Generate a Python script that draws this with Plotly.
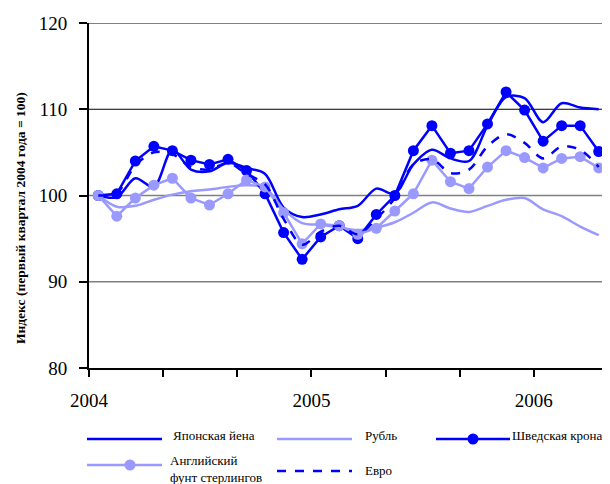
import plotly.graph_objects as go

# ---- data (monthly index, Jan 2004 .. Apr 2006) ----
months = list(range(28))
yen = [100, 99.8, 102.0, 101.0, 105.3, 103.0, 102.8, 103.8, 103.2, 102.5,
       98.6, 97.5, 97.8, 98.4, 98.8, 100.8, 100.2, 103.6, 105.3, 104.3,
       104.0, 108.1, 111.4, 111.3, 108.5, 110.7, 110.2, 110.0]
ruble = [100, 98.7, 98.8, 99.5, 100.1, 100.5, 100.7, 101.0, 101.2, 100.9,
         98.4, 96.8, 96.6, 96.3, 96.0, 96.3, 96.9, 98.0, 99.2, 98.5,
         98.1, 98.8, 99.5, 99.7, 98.4, 97.6, 96.4, 95.4]
krona = [100, 100.2, 104.0, 105.7, 105.2, 104.1, 103.6, 104.2, 102.9, 100.2,
         95.7, 92.6, 95.2, 96.5, 95.0, 97.8, 100.0, 105.2, 108.1, 104.9,
         105.2, 108.3, 112.0, 109.9, 106.3, 108.1, 108.1, 105.1]
pound = [100, 97.6, 99.7, 101.2, 102.0, 99.7, 98.9, 100.2, 101.8, 101.0,
         98.0, 94.4, 96.7, 96.5, 95.5, 96.2, 98.2, 100.2, 104.1, 101.6,
         100.8, 103.3, 105.2, 104.4, 103.2, 104.3, 104.5, 103.2]
euro = [100, 100.3, 103.5, 105.0, 104.8, 103.3, 103.0, 103.8, 102.5, 101.3,
        97.3, 94.3, 95.8, 96.5, 95.5, 97.3, 99.7, 103.6, 104.2, 102.6,
        103.0, 105.7, 107.1, 106.1, 104.3, 105.7, 105.3, 103.3]

tick_vals = [-0.5, 3.5, 7.5, 11.5, 15.5, 19.5, 23.5, 27.5]
tick_text = ["2004", "", "", "2005", "", "", "2006", ""]
y_ticks = [80, 90, 100, 110, 120]

DARK = "#0000FF"
LIGHT = "#9999FF"
FONT = "Liberation Serif, Times New Roman, serif"

names = ["Японская йена", "Рубль", "Шведская крона",
         "Английский<br>фунт стерлингов", "Евро"]

fig = go.Figure()
fig.add_trace(go.Scatter(x=months, y=yen, mode="lines", name=names[0],
                         line=dict(color=DARK, width=2.5, shape="spline", smoothing=0.9)))
fig.add_trace(go.Scatter(x=months, y=ruble, mode="lines", name=names[1],
                         line=dict(color=LIGHT, width=2.5, shape="spline", smoothing=0.9)))
fig.add_trace(go.Scatter(x=months, y=krona, mode="lines+markers", name=names[2],
                         line=dict(color=DARK, width=2.5),
                         marker=dict(color=DARK, size=11)))
fig.add_trace(go.Scatter(x=months, y=pound, mode="lines+markers", name=names[3],
                         line=dict(color=LIGHT, width=2.5),
                         marker=dict(color=LIGHT, size=11)))
fig.add_trace(go.Scatter(x=months, y=euro, mode="lines", name=names[4],
                         line=dict(color=DARK, width=2.5, dash="dash",
                                   shape="spline", smoothing=0.9)))

# page has an 8px body margin: lay out in page pixels, then shift
OFF = 8
W, H = 610 - OFF, 484 - OFF
L, R, T, B = 89, 608, 23, 368   # plot area in page pixels


def px(x):
    return (x - L) / (R - L)


def py(y):
    return (B - y) / (B - T)


shapes = []
for lvl, col, w in [(90, "#808080", 1.5), (100, "#808080", 1.5),
                    (110, "#000000", 1), (120, "#000000", 1)]:
    shapes.append(dict(type="line", xref="paper", yref="y", x0=0, x1=1,
                       y0=lvl, y1=lvl, line=dict(color=col, width=w), layer="below"))

annotations = []
legend_items = [
    # name, color, dash, marker, line x0, line x1, line y, text x, text y
    (names[0], DARK, "solid", False, 87, 162, 439, 171, 435),
    (names[1], LIGHT, "solid", False, 277, 352, 439, 363, 435),
    (names[2], DARK, "solid", True, 436, 510, 439, 510, 435),
    (names[3], LIGHT, "solid", True, 87, 162, 465, 168, 469),
    (names[4], DARK, "dash", False, 277, 352, 471, 363, 471),
]
for nm, col, dash, mk, x0, x1, ly, tx, ty in legend_items:
    shapes.append(dict(type="line", xref="paper", yref="paper",
                       x0=px(x0), x1=px(x1), y0=py(ly), y1=py(ly),
                       line=dict(color=col, width=2.5, dash=dash)))
    if mk:
        cx = (x0 + x1) / 2 if col == DARK else 130
        r = 5.5
        shapes.append(dict(type="circle", xref="paper", yref="paper",
                           x0=px(cx - r), x1=px(cx + r), y0=py(ly - r), y1=py(ly + r),
                           fillcolor=col, line=dict(color=col, width=0)))
    annotations.append(dict(text=nm, xref="paper", yref="paper", x=px(tx), y=py(ty),
                            xanchor="left", yanchor="middle", align="left", showarrow=False,
                            font=dict(family=FONT, size=13, color="black")))

annotations.append(dict(text="<b>Индекс (первый квартал 2004 года = 100)</b>",
                        xref="paper", yref="paper", x=px(20), y=py(218),
                        textangle=-90, showarrow=False, xanchor="center", yanchor="middle",
                        font=dict(family=FONT, size=13.5, color="black")))

fig.update_layout(
    width=W, height=H,
    margin=dict(l=L - OFF, r=610 - R, t=T - OFF, b=484 - B, pad=0),
    paper_bgcolor="white", plot_bgcolor="white",
    showlegend=False,
    font=dict(family=FONT, color="black"),
    shapes=shapes, annotations=annotations,
    xaxis=dict(range=[-0.5, 27.5], tickmode="array", tickvals=tick_vals, ticktext=tick_text,
               showgrid=False, zeroline=False, showline=True, linecolor="black", linewidth=2,
               ticks="outside", ticklen=7, tickwidth=2, tickcolor="black",
               tickfont=dict(family=FONT, size=19, color="black"), ticklabelstandoff=7),
    yaxis=dict(range=[80, 120], tickmode="array", tickvals=y_ticks,
               showgrid=False, zeroline=False, showline=True, linecolor="black", linewidth=2,
               ticks="outside", ticklen=8, tickwidth=2, tickcolor="black",
               tickfont=dict(family=FONT, size=19, color="black"), ticklabelstandoff=8),
)

fig.write_html("out.html")
